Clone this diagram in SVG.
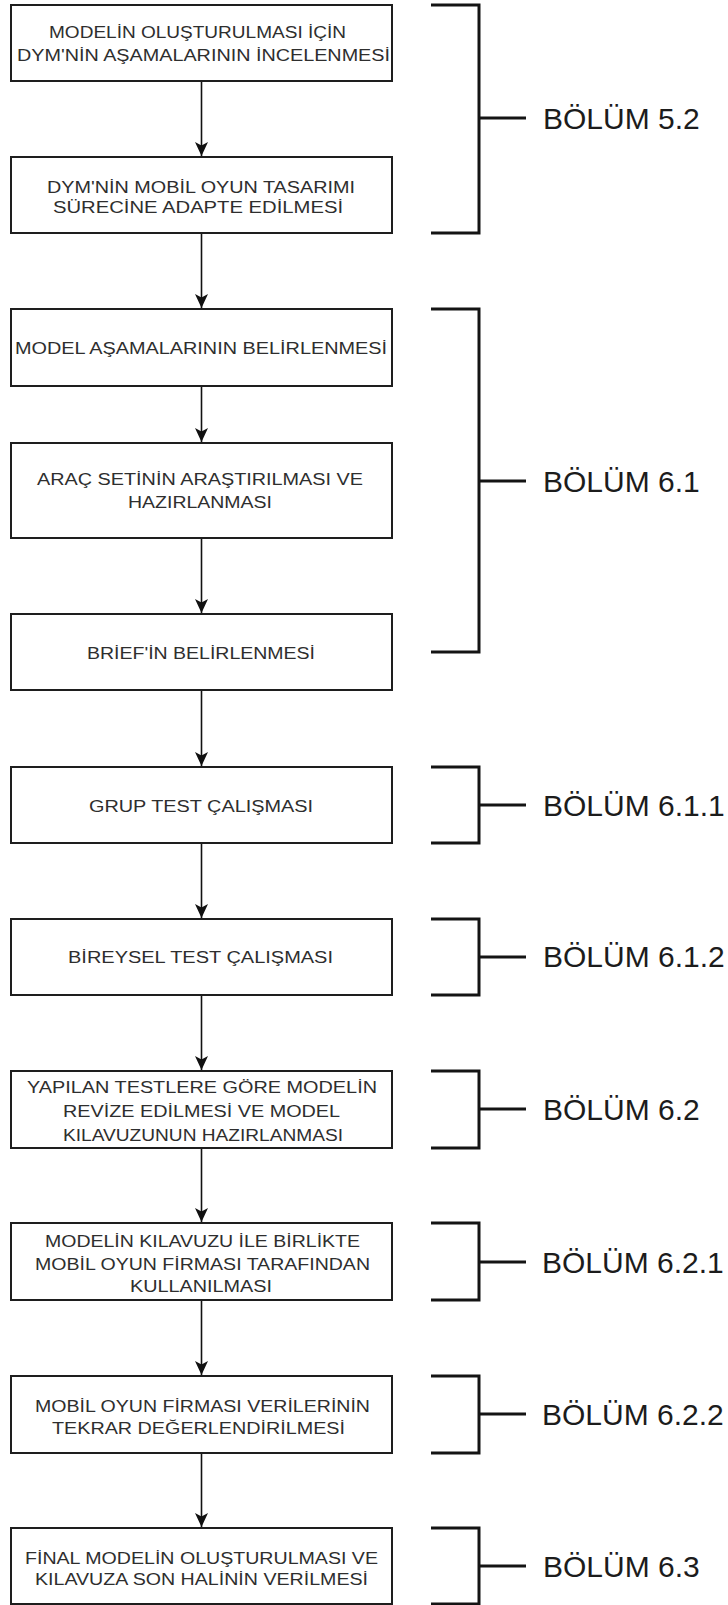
<svg xmlns="http://www.w3.org/2000/svg" width="728" height="1605" viewBox="0 0 728 1605">
  <defs>
    <marker id="arrow" markerUnits="userSpaceOnUse" markerWidth="14" markerHeight="14" refX="14" refY="6.5" orient="auto">
      <path d="M0,0 L14,6.5 L0,13 L3.5,6.5 Z" fill="#111"/>
    </marker>
    <style>
      .box { fill: #fff; stroke: #1e1e1e; stroke-width: 2; }
      .lbl { font-family: "Liberation Sans", Arial, sans-serif; font-size: 16px; fill: #2e2e2e; }
      .edge { fill: none; stroke: #111; stroke-width: 1.6; marker-end: url(#arrow); }
      .brace { fill: none; stroke: #141414; stroke-width: 3; }
      .sec { font-family: "Liberation Sans", Arial, sans-serif; font-size: 30px; fill: #1c1c1c; }
    </style>
  </defs>
  <rect width="728" height="1605" fill="#fff"/>

  <!-- process steps (labels stretched to the box text widths) -->
  <g id="step1">
    <rect class="box" x="11" y="5" width="381" height="76"/>
    <text class="lbl" x="49" y="38" textLength="297" lengthAdjust="spacingAndGlyphs">MODELİN OLUŞTURULMASI İÇİN</text>
    <text class="lbl" x="17" y="61" textLength="373" lengthAdjust="spacingAndGlyphs">DYM'NİN AŞAMALARININ İNCELENMESİ</text>
  </g>
  <g id="step2">
    <rect class="box" x="11" y="157" width="381" height="76"/>
    <text class="lbl" x="47" y="193" textLength="308" lengthAdjust="spacingAndGlyphs">DYM'NİN MOBİL OYUN TASARIMI</text>
    <text class="lbl" x="53" y="213" textLength="290" lengthAdjust="spacingAndGlyphs">SÜRECİNE ADAPTE EDİLMESİ</text>
  </g>
  <g id="step3">
    <rect class="box" x="11" y="309" width="381" height="77"/>
    <text class="lbl" x="15" y="354" textLength="372" lengthAdjust="spacingAndGlyphs">MODEL AŞAMALARININ BELİRLENMESİ</text>
  </g>
  <g id="step4">
    <rect class="box" x="11" y="443" width="381" height="95"/>
    <text class="lbl" x="37" y="485" textLength="326" lengthAdjust="spacingAndGlyphs">ARAÇ SETİNİN ARAŞTIRILMASI VE</text>
    <text class="lbl" x="128" y="508" textLength="144" lengthAdjust="spacingAndGlyphs">HAZIRLANMASI</text>
  </g>
  <g id="step5">
    <rect class="box" x="11" y="614" width="381" height="76"/>
    <text class="lbl" x="87" y="659" textLength="228" lengthAdjust="spacingAndGlyphs">BRİEF'İN BELİRLENMESİ</text>
  </g>
  <g id="step6">
    <rect class="box" x="11" y="767" width="381" height="76"/>
    <text class="lbl" x="89" y="811.5" textLength="224" lengthAdjust="spacingAndGlyphs">GRUP TEST ÇALIŞMASI</text>
  </g>
  <g id="step7">
    <rect class="box" x="11" y="919" width="381" height="76"/>
    <text class="lbl" x="68" y="963" textLength="265" lengthAdjust="spacingAndGlyphs">BİREYSEL TEST ÇALIŞMASI</text>
  </g>
  <g id="step8">
    <rect class="box" x="11" y="1071" width="381" height="77"/>
    <text class="lbl" x="27" y="1093" textLength="350" lengthAdjust="spacingAndGlyphs">YAPILAN TESTLERE GÖRE MODELİN</text>
    <text class="lbl" x="63" y="1117" textLength="277" lengthAdjust="spacingAndGlyphs">REVİZE EDİLMESİ VE MODEL</text>
    <text class="lbl" x="63" y="1140.5" textLength="280" lengthAdjust="spacingAndGlyphs">KILAVUZUNUN HAZIRLANMASI</text>
  </g>
  <g id="step9">
    <rect class="box" x="11" y="1223" width="381" height="77"/>
    <text class="lbl" x="45" y="1247" textLength="315" lengthAdjust="spacingAndGlyphs">MODELİN KILAVUZU İLE BİRLİKTE</text>
    <text class="lbl" x="35" y="1270" textLength="335" lengthAdjust="spacingAndGlyphs">MOBİL OYUN FİRMASI TARAFINDAN</text>
    <text class="lbl" x="130" y="1292" textLength="142" lengthAdjust="spacingAndGlyphs">KULLANILMASI</text>
  </g>
  <g id="step10">
    <rect class="box" x="11" y="1376" width="381" height="77"/>
    <text class="lbl" x="35" y="1412" textLength="335" lengthAdjust="spacingAndGlyphs">MOBİL OYUN FİRMASI VERİLERİNİN</text>
    <text class="lbl" x="52" y="1433.5" textLength="293" lengthAdjust="spacingAndGlyphs">TEKRAR DEĞERLENDİRİLMESİ</text>
  </g>
  <g id="step11">
    <rect class="box" x="11" y="1528" width="381" height="76"/>
    <text class="lbl" x="25" y="1563.5" textLength="353" lengthAdjust="spacingAndGlyphs">FİNAL MODELİN OLUŞTURULMASI VE</text>
    <text class="lbl" x="35" y="1585" textLength="333" lengthAdjust="spacingAndGlyphs">KILAVUZA SON HALİNİN VERİLMESİ</text>
  </g>

  <!-- flow arrows between steps -->
  <g id="connectors">
    <path class="edge" d="M201.5,82 V156"/>
    <path class="edge" d="M201.5,234 V308"/>
    <path class="edge" d="M201.5,387 V442"/>
    <path class="edge" d="M201.5,539 V613"/>
    <path class="edge" d="M201.5,691 V766"/>
    <path class="edge" d="M201.5,844 V918"/>
    <path class="edge" d="M201.5,996 V1070"/>
    <path class="edge" d="M201.5,1149 V1222"/>
    <path class="edge" d="M201.5,1301 V1375"/>
    <path class="edge" d="M201.5,1454 V1527"/>
  </g>

  <!-- section brackets -->
  <g id="sec52">
    <path class="brace" d="M431,5 H479 V233 H431 M479,118 H526"/>
    <text class="sec" x="543" y="129">BÖLÜM 5.2</text>
  </g>
  <g id="sec61">
    <path class="brace" d="M431,309 H479 V652 H431 M479,481 H526"/>
    <text class="sec" x="543" y="491.5">BÖLÜM 6.1</text>
  </g>
  <g id="sec611">
    <path class="brace" d="M431,767 H479 V843 H431 M479,805 H526"/>
    <text class="sec" x="543" y="815.5">BÖLÜM 6.1.1</text>
  </g>
  <g id="sec612">
    <path class="brace" d="M431,919 H479 V995 H431 M479,957 H526"/>
    <text class="sec" x="543" y="967">BÖLÜM 6.1.2</text>
  </g>
  <g id="sec62">
    <path class="brace" d="M431,1071 H479 V1148 H431 M479,1109 H526"/>
    <text class="sec" x="543" y="1120">BÖLÜM 6.2</text>
  </g>
  <g id="sec621">
    <path class="brace" d="M431,1223 H479 V1300 H431 M479,1262 H526"/>
    <text class="sec" x="542" y="1272.5">BÖLÜM 6.2.1</text>
  </g>
  <g id="sec622">
    <path class="brace" d="M431,1376 H479 V1453 H431 M479,1414 H526"/>
    <text class="sec" x="542" y="1425">BÖLÜM 6.2.2</text>
  </g>
  <g id="sec63">
    <path class="brace" d="M431,1528 H479 V1604 H431 M479,1566 H526"/>
    <text class="sec" x="543" y="1577">BÖLÜM 6.3</text>
  </g>
</svg>
